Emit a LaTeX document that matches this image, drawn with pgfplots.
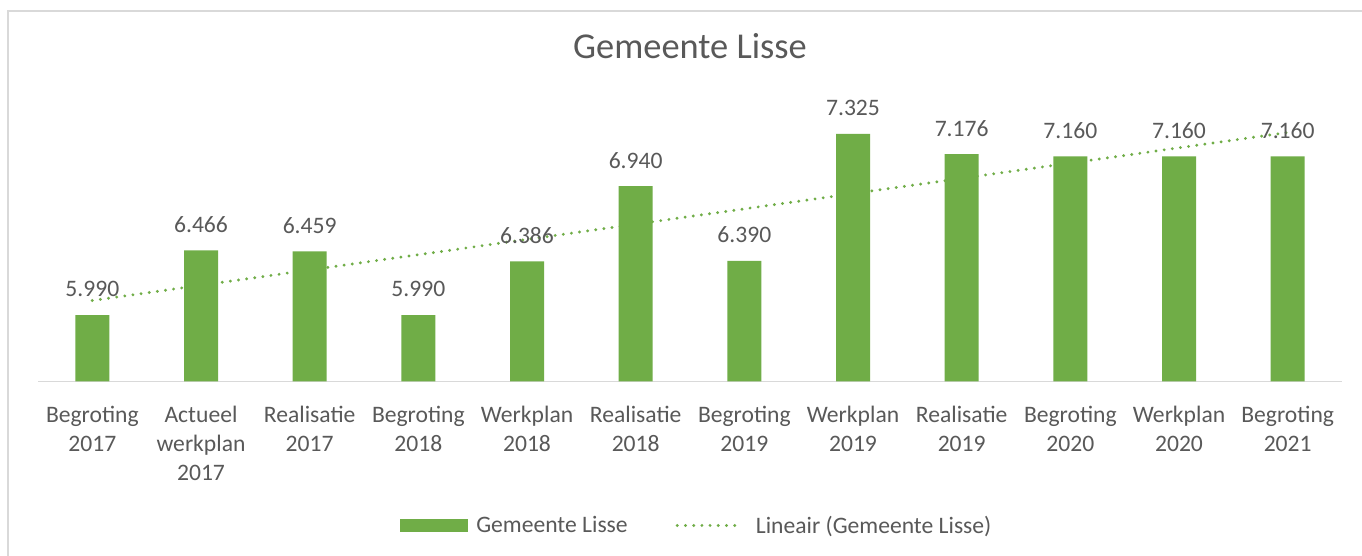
\documentclass[border=0pt]{standalone}
\usepackage{pgfplots}
\pgfplotsset{compat=1.18}
\usepackage{fontspec}
\setmainfont{Carlito}
\definecolor{bargreen}{HTML}{70AD47}
\definecolor{txtgray}{HTML}{595959}
\definecolor{linegray}{HTML}{D9D9D9}
\newcommand{\lblfont}{\fontsize{17.7}{21.75}\selectfont}
\begin{document}
\begin{tikzpicture}
\useasboundingbox (0,0) rectangle (1021.5pt,417pt);
\fill[white] (0,0) rectangle (1021.5pt,417pt);
\draw[linegray, line width=1.1pt] (6pt,0) -- (6pt,408.75pt) -- (1021.5pt,408.75pt);
\begin{axis}[
    at={(28.5pt,130.9pt)}, anchor=south west,
    scale only axis,
    width=978pt, height=203.4pt,
    xmin=0.5, xmax=12.5,
    ymin=5.5, ymax=7.5,
    axis x line=bottom,
    axis y line=none,
    x axis line style={-, linegray, line width=1.1pt},
    xtick=data,
    major tick length=0pt,
    xticklabels={{Begroting\\2017},{Actueel\\werkplan\\2017},{Realisatie\\2017},
        {Begroting\\2018},{Werkplan\\2018},{Realisatie\\2018},{Begroting\\2019},
        {Werkplan\\2019},{Realisatie\\2019},{Begroting\\2020},{Werkplan\\2020},
        {Begroting\\2021}},
    x tick label style={align=center, font=\lblfont, text=txtgray,
        anchor=north, inner sep=0pt, yshift=-18.5pt},
    clip=false,
    title={Gemeente Lisse},
    title style={at={(0.5,1.1608)}, anchor=base, inner sep=0pt, yshift=0pt,
        font=\fontsize{27.3}{32}\selectfont, text=txtgray},
    legend columns=2,
    legend style={at={(0.2776,-0.531)}, anchor=west, draw=none, fill=none,
        inner sep=0pt, font=\lblfont, text=txtgray,
        nodes={inner sep=0pt},
        /tikz/column 1/.style={column sep=6pt},
        /tikz/column 2/.style={column sep=36pt},
        /tikz/column 3/.style={column sep=9pt}},
]
\addplot[ybar, bar width=25.5pt, fill=bargreen, draw=none,
    nodes near coords,
    every node near coord/.append style={font=\lblfont, text=txtgray,
        anchor=south, inner sep=0pt, yshift=13.3pt},
    /pgf/number format/.cd, fixed, fixed zerofill, precision=3,
        1000 sep={}, assume math mode=true,
    /pgfplots/.cd,
    legend image code/.code={\fill[bargreen] (0pt,-4.9pt) rectangle (51pt,4.9pt);}]
    coordinates {(1,5.990) (2,6.466) (3,6.459) (4,5.990) (5,6.386) (6,6.940)
                 (7,6.390) (8,7.325) (9,7.176) (10,7.160) (11,7.160) (12,7.160)};
\addlegendentry{Gemeente Lisse}
\addplot[sharp plot, bargreen, line width=2.4pt, line cap=round,
    dash pattern=on 0pt off 6.15pt,
    legend image code/.code={\draw[bargreen, line width=2.4pt, line cap=round,
        dash pattern=on 0pt off 6.15pt] (0pt,0pt) -- (48.75pt,0pt);}]
    coordinates {(1,6.097) (12,7.336)};
\addlegendentry{Lineair (Gemeente Lisse)}
\end{axis}
\end{tikzpicture}
\end{document}
